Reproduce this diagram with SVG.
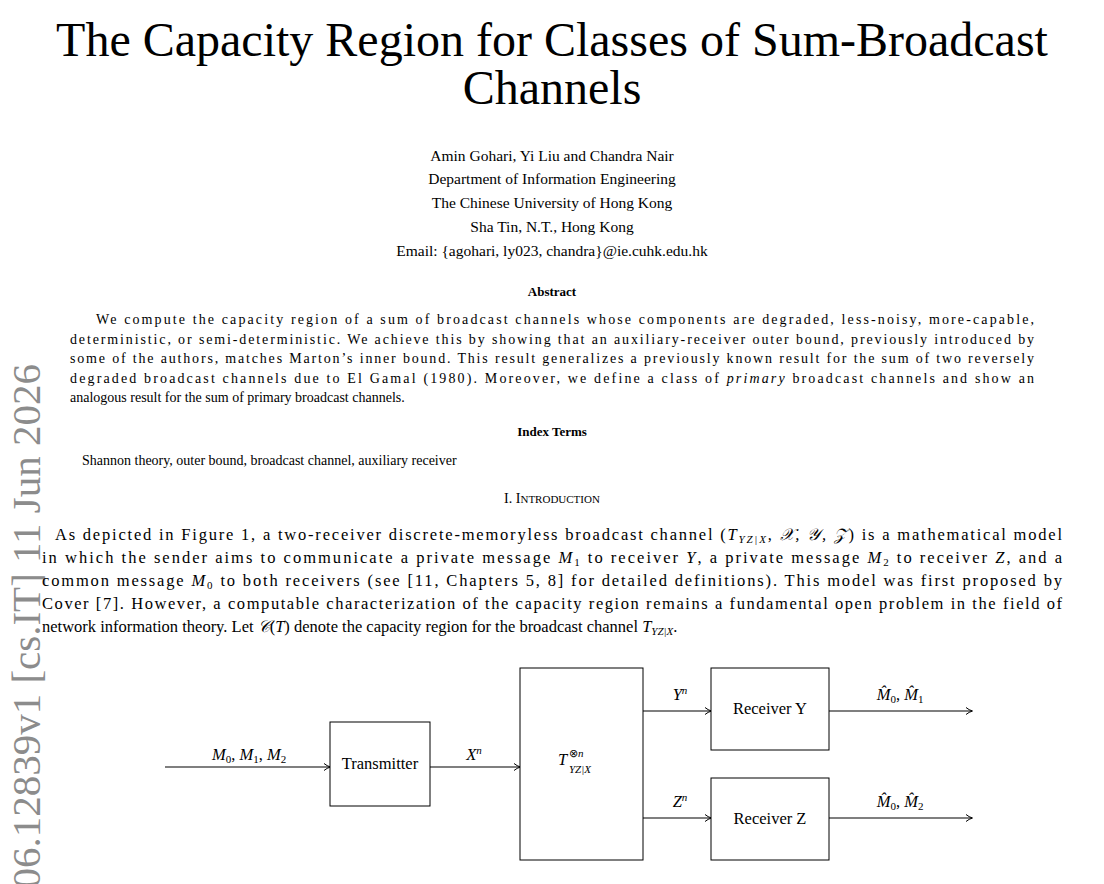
<svg xmlns="http://www.w3.org/2000/svg" width="1104" height="884" viewBox="0 0 1104 884">
<style>
text{font-family:"Liberation Serif",serif;fill:#000}
.t{font-size:48px}
.a{font-size:15.5px}
.b{font-size:14px}
.p{font-size:16.5px}
.i{font-style:italic}
.box{fill:#fff;stroke:#000;stroke-width:1}
.ln{stroke:#000;stroke-width:1.2;fill:none;marker-end:url(#ar)}
</style>
<defs><marker id="ar" markerWidth="10" markerHeight="10" refX="8" refY="5" orient="auto" markerUnits="userSpaceOnUse"><path d="M2,1.5 Q5,4 8.5,5 Q5,6 2,8.5" fill="none" stroke="#000" stroke-width="1"/></marker></defs>
<rect width="1104" height="884" fill="#fff"/>
<text transform="translate(40,364) rotate(-90)" text-anchor="end" style="font-size:41px;fill:#8c8c8c">arXiv:2606.12839v1  [cs.IT]  11 Jun 2026</text>
<text class="t" x="552" y="56" text-anchor="middle">The Capacity Region for Classes of Sum-Broadcast</text>
<text class="t" x="552" y="104" text-anchor="middle">Channels</text>
<g class="a" text-anchor="middle">
<text x="552" y="161">Amin Gohari, Yi Liu and Chandra Nair</text>
<text x="552" y="184">Department of Information Engineering</text>
<text x="552" y="208">The Chinese University of Hong Kong</text>
<text x="552" y="232">Sha Tin, N.T., Hong Kong</text>
<text x="552" y="256">Email: {agohari, ly023, chandra}@ie.cuhk.edu.hk</text>
</g>
<text x="552" y="296" text-anchor="middle" style="font-size:13px;font-weight:bold">Abstract</text>
<g class="b">
<text x="96" y="324" textLength="938" lengthAdjust="spacing">We compute the capacity region of a sum of broadcast channels whose components are degraded, less-noisy, more-capable,</text>
<text x="70" y="344" textLength="964" lengthAdjust="spacing">deterministic, or semi-deterministic. We achieve this by showing that an auxiliary-receiver outer bound, previously introduced by</text>
<text x="70" y="363" textLength="964" lengthAdjust="spacing">some of the authors, matches Marton’s inner bound. This result generalizes a previously known result for the sum of two reversely</text>
<text x="70" y="383" textLength="964" lengthAdjust="spacing">degraded broadcast channels due to El Gamal (1980). Moreover, we define a class of <tspan class="i">primary</tspan> broadcast channels and show an</text>
<text x="70" y="402">analogous result for the sum of primary broadcast channels.</text>
</g>
<text x="552" y="436" text-anchor="middle" style="font-size:13px;font-weight:bold">Index Terms</text>
<text class="b" x="82" y="465">Shannon theory, outer bound, broadcast channel, auxiliary receiver</text>
<text x="552" y="503" text-anchor="middle" style="font-size:14px">I. I<tspan style="font-size:11px">NTRODUCTION</tspan></text>
<g class="p">
<text x="55" y="540" textLength="1007" lengthAdjust="spacing">As depicted in Figure 1, a two-receiver discrete-memoryless broadcast channel (<tspan class="i">T</tspan><tspan class="i" style="font-size:11px" dy="3">YZ|X</tspan><tspan dy="-3">, </tspan><tspan class="i">𝒳, 𝒴, 𝒵</tspan>) is a mathematical model</text>
<text x="42" y="563" textLength="1020" lengthAdjust="spacing">in which the sender aims to communicate a private message <tspan class="i">M</tspan><tspan style="font-size:11px" dy="3">1</tspan><tspan dy="-3"> to receiver </tspan><tspan class="i">Y</tspan>, a private message <tspan class="i">M</tspan><tspan style="font-size:11px" dy="3">2</tspan><tspan dy="-3"> to receiver </tspan><tspan class="i">Z</tspan>, and a</text>
<text x="42" y="586" textLength="1020" lengthAdjust="spacing">common message <tspan class="i">M</tspan><tspan style="font-size:11px" dy="3">0</tspan><tspan dy="-3"> to both receivers (see [11, Chapters 5, 8] for detailed definitions). This model was first proposed by</tspan></text>
<text x="42" y="609" textLength="1020" lengthAdjust="spacing">Cover [7]. However, a computable characterization of the capacity region remains a fundamental open problem in the field of</text>
<text x="42" y="632">network information theory. Let <tspan class="i">𝒞</tspan>(<tspan class="i">T</tspan>) denote the capacity region for the broadcast channel <tspan class="i">T</tspan><tspan class="i" style="font-size:11px" dy="3">YZ|X</tspan><tspan dy="-3">.</tspan></text>
</g>
<g id="connectors">
<path class="ln" d="M165,767 H330"/>
<path class="ln" d="M430,767 H520"/>
<path class="ln" d="M643,711 H711"/>
<path class="ln" d="M643,818 H711"/>
<path class="ln" d="M829,711 H972"/>
<path class="ln" d="M829,818 H972"/>
</g>
<g class="p">
<text x="249" y="760" text-anchor="middle"><tspan class="i">M</tspan><tspan style="font-size:11px" dy="3">0</tspan><tspan dy="-3">, </tspan><tspan class="i">M</tspan><tspan style="font-size:11px" dy="3">1</tspan><tspan dy="-3">, </tspan><tspan class="i">M</tspan><tspan style="font-size:11px" dy="3">2</tspan></text>
<text x="474" y="760" text-anchor="middle" class="i">X<tspan style="font-size:11px" dy="-6">n</tspan></text>
<text x="680" y="700" text-anchor="middle" class="i">Y<tspan style="font-size:11px" dy="-6">n</tspan></text>
<text x="680" y="807" text-anchor="middle" class="i">Z<tspan style="font-size:11px" dy="-6">n</tspan></text>
<text x="900" y="700" text-anchor="middle"><tspan class="i">M̂</tspan><tspan style="font-size:11px" dy="3">0</tspan><tspan dy="-3">, </tspan><tspan class="i">M̂</tspan><tspan style="font-size:11px" dy="3">1</tspan></text>
<text x="900" y="807" text-anchor="middle"><tspan class="i">M̂</tspan><tspan style="font-size:11px" dy="3">0</tspan><tspan dy="-3">, </tspan><tspan class="i">M̂</tspan><tspan style="font-size:11px" dy="3">2</tspan></text>
</g>
<g id="transmitter"><rect class="box" x="330" y="722" width="100" height="84"/><text class="p" x="380" y="769" text-anchor="middle">Transmitter</text></g>
<g id="channel"><rect class="box" x="520" y="668" width="123" height="192"/>
<text class="p i" x="558" y="765">T</text>
<text x="569" y="757" style="font-size:11px">⊗<tspan class="i">n</tspan></text>
<text class="i" x="569" y="773" style="font-size:11px">YZ|X</text></g>
<g id="receiverY"><rect class="box" x="711" y="668" width="118" height="82"/><text class="p" x="770" y="714" text-anchor="middle">Receiver Y</text></g>
<g id="receiverZ"><rect class="box" x="711" y="778" width="118" height="82"/><text class="p" x="770" y="824" text-anchor="middle">Receiver Z</text></g>
</svg>
